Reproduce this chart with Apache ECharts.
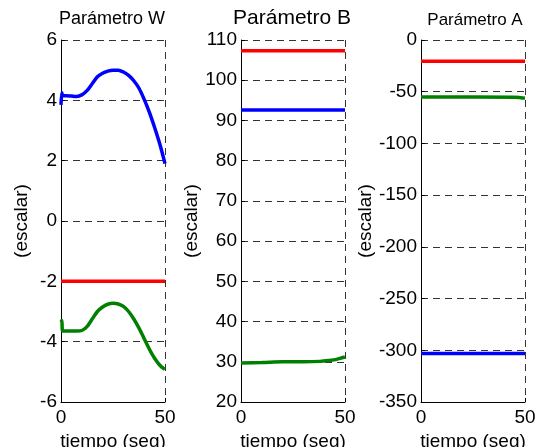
<!DOCTYPE html>
<html>
<head>
<meta charset="utf-8">
<script src="https://cdn.jsdelivr.net/npm/echarts@6/dist/echarts.min.js"></script>
<style>
  html, body { margin: 0; padding: 0; background: #fff; }
  #chart { width: 542px; height: 447px; }
</style>
</head>
<body>
<div id="chart"></div>
<script>
// tiempo (seg) for the W curves
const tW = [0, 0.4, 0.8, 2.5, 5, 7.5, 10, 12.5, 15, 17.5, 20, 22.5, 25, 27.5, 30, 32.5, 35, 37.5, 40, 42.5, 45, 47.5, 50]
const wBlue = [3.85, 4.25, 4.15, 4.15, 4.14, 4.13, 4.18, 4.32, 4.55, 4.78, 4.9, 4.97, 5.0, 5.0, 4.94, 4.83, 4.65, 4.4, 4.03, 3.6, 3.1, 2.55, 1.9]
const wGreen = [-3.35, -3.3, -3.65, -3.65, -3.65, -3.65, -3.63, -3.5, -3.25, -3.0, -2.85, -2.76, -2.73, -2.75, -2.83, -3.0, -3.25, -3.55, -3.9, -4.25, -4.55, -4.78, -4.92]
const tConst = [0, 50]
const wRed = [-2, -2]

const bRed = [107.3, 107.3]
const bBlue = [92.6, 92.6]
const tB = [0, 10, 20, 30, 38, 42, 46, 50]
const bGreen = [29.7, 29.8, 30.0, 30.0, 30.1, 30.3, 30.6, 31.2]

const aRed = [-20.5, -20.5]
const aBlue = [-303, -303]
const tA = [0, 45, 48, 50]
const aGreen = [-55, -55.3, -55.8, -56.2]

const titles = ['Parámetro W', 'Parámetro B', 'Parámetro A']
const yRanges = [[-6, 6, 2], [20, 110, 10], [-350, 0, 50]]

const font = "'Liberation Sans', Arial, sans-serif"
const gridLefts = [61, 241, 421]

const pair = (t, v) => t.map((x, i) => [x, v[i]])

const axisLine = { show: true, onZero: false, lineStyle: { color: '#000', width: 1 } }
const splitLine = { show: true, lineStyle: { color: '#333', type: [7, 5], width: 1 } }

let option = {
  animation: false,
  title: [
    { text: titles[0], left: 112, top: 10, padding: 0, textAlign: 'center', textStyle: { fontFamily: font, fontSize: 18, fontWeight: 'normal', color: '#000' } },
    { text: titles[1], left: 292, top: 8, padding: 0, textAlign: 'center', textStyle: { fontFamily: font, fontSize: 21, fontWeight: 'normal', color: '#000' } },
    { text: titles[2], left: 475, top: 12, padding: 0, textAlign: 'center', textStyle: { fontFamily: font, fontSize: 17, fontWeight: 'normal', color: '#000' } }
  ],
  grid: gridLefts.map(l => ({ left: l, top: 40, width: 104, height: 362, outerBoundsMode: 'none' })),
  xAxis: gridLefts.map((l, i) => ({
    type: 'value',
    gridIndex: i,
    min: 0,
    max: 50,
    interval: 50,
    name: 'tiempo (seg)',
    nameLocation: 'middle',
    nameGap: 28,
    nameTextStyle: { fontFamily: font, fontSize: 19, color: '#000' },
    axisLine: axisLine,
    axisTick: { show: true, inside: true, length: 4, lineStyle: { color: '#000' } },
    axisLabel: { fontFamily: font, fontSize: 19, color: '#000', margin: 6 },
    splitLine: splitLine
  })),
  yAxis: yRanges.map((r, i) => ({
    type: 'value',
    gridIndex: i,
    min: r[0],
    max: r[1],
    interval: r[2],
    name: '(escalar)',
    nameLocation: 'middle',
    nameRotate: 90,
    nameGap: i === 0 ? 30 : 38,
    nameTextStyle: { fontFamily: font, fontSize: 19, color: '#000' },
    axisLine: axisLine,
    axisTick: { show: true, inside: true, length: 4, lineStyle: { color: '#000' } },
    axisLabel: { fontFamily: font, fontSize: 19, color: '#000', margin: 4 },
    splitLine: splitLine
  })),
  series: [
    { data: pair(tConst, wRed), color: '#ff0000', xAxisIndex: 0, yAxisIndex: 0 },
    { data: pair(tW, wBlue), color: '#0000ff', xAxisIndex: 0, yAxisIndex: 0 },
    { data: pair(tW, wGreen), color: '#008000', xAxisIndex: 0, yAxisIndex: 0 },
    { data: pair(tConst, bRed), color: '#ff0000', xAxisIndex: 1, yAxisIndex: 1 },
    { data: pair(tConst, bBlue), color: '#0000ff', xAxisIndex: 1, yAxisIndex: 1 },
    { data: pair(tB, bGreen), color: '#008000', xAxisIndex: 1, yAxisIndex: 1 },
    { data: pair(tConst, aRed), color: '#ff0000', xAxisIndex: 2, yAxisIndex: 2 },
    { data: pair(tA, aGreen), color: '#008000', xAxisIndex: 2, yAxisIndex: 2 },
    { data: pair(tConst, aBlue), color: '#0000ff', xAxisIndex: 2, yAxisIndex: 2 }
  ].map(s => Object.assign({
    type: 'line',
    smooth: 0.3,
    showSymbol: false,
    lineStyle: { width: 3.5 }
  }, s))
}

const myChart = echarts.init(document.getElementById('chart'))
myChart.setOption(option)
</script>
</body>
</html>
